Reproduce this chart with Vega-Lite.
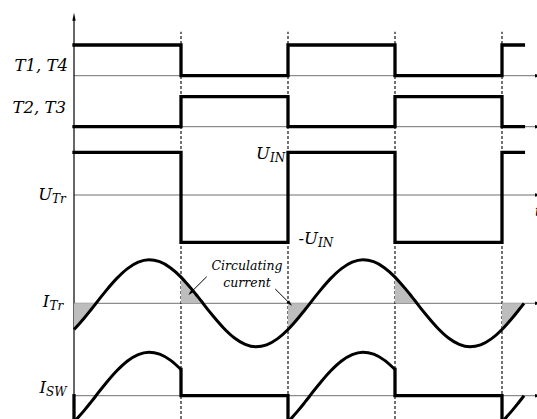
{
  "$schema": "https://vega.github.io/schema/vega-lite/v6.json",
  "width": 537,
  "height": 419,
  "autosize": "none",
  "padding": 0,
  "background": "white",
  "config": {"view": {"stroke": null}},
  "datasets": {
    "sq": [
      {"sig": "T14", "o": 1, "t": 0, "y": 37.4}, {"sig": "T14", "o": 2, "t": 1, "y": 37.4}, {"sig": "T14", "o": 3, "t": 1, "y": 34.33}, {"sig": "T14", "o": 4, "t": 2, "y": 34.33}, {"sig": "T14", "o": 5, "t": 2, "y": 37.4}, {"sig": "T14", "o": 6, "t": 3, "y": 37.4}, {"sig": "T14", "o": 7, "t": 3, "y": 34.33}, {"sig": "T14", "o": 8, "t": 4, "y": 34.33}, {"sig": "T14", "o": 9, "t": 4, "y": 37.4}, {"sig": "T14", "o": 10, "t": 4.2, "y": 37.4},
      {"sig": "T23", "o": 1, "t": 0, "y": 29.23}, {"sig": "T23", "o": 2, "t": 1, "y": 29.23}, {"sig": "T23", "o": 3, "t": 1, "y": 32.23}, {"sig": "T23", "o": 4, "t": 2, "y": 32.23}, {"sig": "T23", "o": 5, "t": 2, "y": 29.23}, {"sig": "T23", "o": 6, "t": 3, "y": 29.23}, {"sig": "T23", "o": 7, "t": 3, "y": 32.23}, {"sig": "T23", "o": 8, "t": 4, "y": 32.23}, {"sig": "T23", "o": 9, "t": 4, "y": 29.23}, {"sig": "T23", "o": 10, "t": 4.2, "y": 29.23},
      {"sig": "UTr", "o": 1, "t": 0, "y": 26.67}, {"sig": "UTr", "o": 2, "t": 1, "y": 26.67}, {"sig": "UTr", "o": 3, "t": 1, "y": 17.67}, {"sig": "UTr", "o": 4, "t": 2, "y": 17.67}, {"sig": "UTr", "o": 5, "t": 2, "y": 26.67}, {"sig": "UTr", "o": 6, "t": 3, "y": 26.67}, {"sig": "UTr", "o": 7, "t": 3, "y": 17.67}, {"sig": "UTr", "o": 8, "t": 4, "y": 17.67}, {"sig": "UTr", "o": 9, "t": 4, "y": 26.67}, {"sig": "UTr", "o": 10, "t": 4.2, "y": 26.67},
      {"sig": "SWa", "o": 1, "t": 0, "y": 2.33}, {"sig": "SWa", "o": 2, "t": 0, "y": -0.29},
      {"sig": "SWb", "o": 1, "t": 1, "y": 4.95}, {"sig": "SWb", "o": 2, "t": 1, "y": 2.33}, {"sig": "SWb", "o": 3, "t": 2, "y": 2.33}, {"sig": "SWb", "o": 4, "t": 2, "y": -0.29},
      {"sig": "SWc", "o": 1, "t": 3, "y": 4.95}, {"sig": "SWc", "o": 2, "t": 3, "y": 2.33}, {"sig": "SWc", "o": 3, "t": 4, "y": 2.33}, {"sig": "SWc", "o": 4, "t": 4, "y": -0.29}
    ],
    "itr": [
      {"t": 0, "y": 8.95, "seg": "A0"}, {"t": 0.05, "y": 9.53, "seg": "A0"}, {"t": 0.1, "y": 10.15, "seg": "A0"}, {"t": 0.15, "y": 10.81, "seg": "A0"}, {"t": 0.2, "y": 11.49, "seg": "A0"}, {"t": 0.2056, "y": 11.57, "seg": "A0"},
      {"t": 0.3, "y": 12.84}, {"t": 0.4, "y": 14.06}, {"t": 0.5, "y": 15.04}, {"t": 0.6, "y": 15.68}, {"t": 0.7, "y": 15.92}, {"t": 0.8, "y": 15.73}, {"t": 0.9, "y": 15.13},
      {"t": 1.0, "y": 14.19, "seg": "A1"}, {"t": 1.05, "y": 13.61, "seg": "A1"}, {"t": 1.1, "y": 12.99, "seg": "A1"}, {"t": 1.15, "y": 12.33, "seg": "A1"}, {"t": 1.2, "y": 11.65, "seg": "A1"}, {"t": 1.2056, "y": 11.57, "seg": "A1"},
      {"t": 1.3, "y": 10.3}, {"t": 1.4, "y": 9.08}, {"t": 1.5, "y": 8.1}, {"t": 1.6, "y": 7.46}, {"t": 1.7, "y": 7.22}, {"t": 1.8, "y": 7.41}, {"t": 1.9, "y": 8.01},
      {"t": 2.0, "y": 8.95, "seg": "A2"}, {"t": 2.05, "y": 9.53, "seg": "A2"}, {"t": 2.1, "y": 10.15, "seg": "A2"}, {"t": 2.15, "y": 10.81, "seg": "A2"}, {"t": 2.2, "y": 11.49, "seg": "A2"}, {"t": 2.2056, "y": 11.57, "seg": "A2"},
      {"t": 2.3, "y": 12.84}, {"t": 2.4, "y": 14.06}, {"t": 2.5, "y": 15.04}, {"t": 2.6, "y": 15.68}, {"t": 2.7, "y": 15.92}, {"t": 2.8, "y": 15.73}, {"t": 2.9, "y": 15.13},
      {"t": 3.0, "y": 14.19, "seg": "A3"}, {"t": 3.05, "y": 13.61, "seg": "A3"}, {"t": 3.1, "y": 12.99, "seg": "A3"}, {"t": 3.15, "y": 12.33, "seg": "A3"}, {"t": 3.2, "y": 11.65, "seg": "A3"}, {"t": 3.2056, "y": 11.57, "seg": "A3"},
      {"t": 3.3, "y": 10.3}, {"t": 3.4, "y": 9.08}, {"t": 3.5, "y": 8.1}, {"t": 3.6, "y": 7.46}, {"t": 3.7, "y": 7.22}, {"t": 3.8, "y": 7.41}, {"t": 3.9, "y": 8.01},
      {"t": 4.0, "y": 8.95, "seg": "A4"}, {"t": 4.05, "y": 9.53, "seg": "A4"}, {"t": 4.1, "y": 10.15, "seg": "A4"}, {"t": 4.15, "y": 10.81, "seg": "A4"}, {"t": 4.2, "y": 11.49, "seg": "A4"}, {"t": 4.2056, "y": 11.57, "seg": "A4"}
    ],
    "isw": [
      {"seg": "S0", "t": 0, "y": -0.29}, {"seg": "S0", "t": 0.05, "y": 0.29}, {"seg": "S0", "t": 0.1, "y": 0.91}, {"seg": "S0", "t": 0.15, "y": 1.57}, {"seg": "S0", "t": 0.2, "y": 2.25}, {"seg": "S0", "t": 0.2056, "y": 2.33}, {"seg": "S0", "t": 0.3, "y": 3.6}, {"seg": "S0", "t": 0.4, "y": 4.82}, {"seg": "S0", "t": 0.5, "y": 5.8}, {"seg": "S0", "t": 0.6, "y": 6.44}, {"seg": "S0", "t": 0.7, "y": 6.68}, {"seg": "S0", "t": 0.8, "y": 6.49}, {"seg": "S0", "t": 0.9, "y": 5.89}, {"seg": "S0", "t": 1.0, "y": 4.95},
      {"seg": "S2", "t": 2, "y": -0.29}, {"seg": "S2", "t": 2.05, "y": 0.29}, {"seg": "S2", "t": 2.1, "y": 0.91}, {"seg": "S2", "t": 2.15, "y": 1.57}, {"seg": "S2", "t": 2.2, "y": 2.25}, {"seg": "S2", "t": 2.2056, "y": 2.33}, {"seg": "S2", "t": 2.3, "y": 3.6}, {"seg": "S2", "t": 2.4, "y": 4.82}, {"seg": "S2", "t": 2.5, "y": 5.8}, {"seg": "S2", "t": 2.6, "y": 6.44}, {"seg": "S2", "t": 2.7, "y": 6.68}, {"seg": "S2", "t": 2.8, "y": 6.49}, {"seg": "S2", "t": 2.9, "y": 5.89}, {"seg": "S2", "t": 3.0, "y": 4.95},
      {"seg": "S4", "t": 4, "y": -0.29}, {"seg": "S4", "t": 4.05, "y": 0.29}, {"seg": "S4", "t": 4.1, "y": 0.91}, {"seg": "S4", "t": 4.15, "y": 1.57}, {"seg": "S4", "t": 4.2, "y": 2.25}, {"seg": "S4", "t": 4.2056, "y": 2.33}
    ],
    "base": [{"y": 34.33}, {"y": 29.23}, {"y": 22.4}, {"y": 11.57}, {"y": 2.33}],
    "dash": [{"t": 1}, {"t": 2}, {"t": 3}, {"t": 4}],
    "labels": [
      {"text": "T1, T4", "t": -0.056, "y": 34.8},
      {"text": "T2, T3", "t": -0.075, "y": 30.6},
      {"text": "U", "t": -0.205, "y": 21.9},
      {"text": "I", "t": -0.23, "y": 11.2},
      {"text": "I", "t": -0.262, "y": 2.63},
      {"text": "U", "t": 1.832, "y": 26.0},
      {"text": "-U", "t": 2.28, "y": 17.55}
    ],
    "subs": [
      {"text": "Tr", "t": -0.205, "y": 21.6},
      {"text": "Tr", "t": -0.23, "y": 10.9},
      {"text": "SW", "t": -0.262, "y": 2.35},
      {"text": "IN", "t": 1.832, "y": 25.7},
      {"text": "IN", "t": 2.28, "y": 17.25}
    ],
    "notes": [
      {"text": "Circulating", "t": 1.617, "y": 14.9},
      {"text": "current", "t": 1.617, "y": 13.25}
    ],
    "arrows": [
      {"id": 1, "t": 1.24, "y": 14.23, "t2": 1.0888, "y2": 12.62},
      {"id": 2, "t": 1.881, "y": 13.0, "t2": 2.0178, "y2": 11.54}
    ]
  },
  "layer": [
    {
      "data": {"name": "base"},
      "mark": {"type": "rule", "color": "#707070", "strokeWidth": 1},
      "encoding": {
        "x": {"datum": 0, "type": "quantitative", "scale": {"domain": [-0.6916, 4.3271], "nice": false, "zero": false}, "axis": null},
        "x2": {"datum": 4.33},
        "y": {"field": "y", "type": "quantitative", "scale": {"domain": [0, 41.9], "nice": false, "zero": false}, "axis": null}
      }
    },
    {
      "data": {"name": "base"},
      "mark": {"type": "point", "shape": "M1,0L-1,0.42L-1,-0.42Z", "size": 64, "filled": true, "color": "#000", "opacity": 1},
      "encoding": {
        "x": {"datum": 4.346, "type": "quantitative"},
        "y": {"field": "y", "type": "quantitative"}
      }
    },
    {
      "data": {"name": "dash"},
      "mark": {"type": "rule", "color": "#000", "strokeWidth": 1.1, "strokeDash": [3, 2]},
      "encoding": {
        "x": {"field": "t", "type": "quantitative"},
        "y": {"datum": 0, "type": "quantitative"},
        "y2": {"datum": 38.73}
      }
    },
    {
      "data": {"values": [{"t": 0}]},
      "mark": {"type": "rule", "color": "#000", "strokeWidth": 1.2},
      "encoding": {
        "x": {"field": "t", "type": "quantitative"},
        "y": {"datum": 0, "type": "quantitative"},
        "y2": {"datum": 39.9}
      }
    },
    {
      "data": {"values": [{"t": 0, "y": 40.23}]},
      "mark": {"type": "point", "shape": "M0,-1L0.42,1L-0.42,1Z", "size": 64, "filled": true, "color": "#000", "opacity": 1},
      "encoding": {
        "x": {"field": "t", "type": "quantitative"},
        "y": {"field": "y", "type": "quantitative"}
      }
    },
    {
      "data": {"name": "itr"},
      "transform": [{"filter": "datum.seg != null"}],
      "mark": {"type": "area", "interpolate": "monotone", "color": "#bdbdbd", "opacity": 1},
      "encoding": {
        "x": {"field": "t", "type": "quantitative"},
        "y": {"field": "y", "type": "quantitative", "stack": null},
        "y2": {"datum": 11.57},
        "detail": {"field": "seg"}
      }
    },
    {
      "data": {"name": "itr"},
      "mark": {"type": "line", "interpolate": "monotone", "color": "#000", "strokeWidth": 3},
      "encoding": {
        "x": {"field": "t", "type": "quantitative"},
        "y": {"field": "y", "type": "quantitative"},
        "order": {"field": "t"}
      }
    },
    {
      "data": {"name": "isw"},
      "mark": {"type": "line", "interpolate": "monotone", "color": "#000", "strokeWidth": 3},
      "encoding": {
        "x": {"field": "t", "type": "quantitative"},
        "y": {"field": "y", "type": "quantitative"},
        "detail": {"field": "seg"},
        "order": {"field": "t"}
      }
    },
    {
      "data": {"name": "sq"},
      "mark": {"type": "line", "interpolate": "linear", "color": "#000", "strokeWidth": 3.3, "strokeCap": "square", "strokeJoin": "miter"},
      "encoding": {
        "x": {"field": "t", "type": "quantitative"},
        "y": {"field": "y", "type": "quantitative"},
        "detail": {"field": "sig"},
        "order": {"field": "o"}
      }
    },
    {
      "data": {"name": "arrows"},
      "mark": {"type": "rule", "color": "#000", "strokeWidth": 1},
      "encoding": {
        "x": {"field": "t", "type": "quantitative"},
        "y": {"field": "y", "type": "quantitative"},
        "x2": {"field": "t2"},
        "y2": {"field": "y2"}
      }
    },
    {
      "data": {"name": "arrows"},
      "transform": [{"filter": "datum.id == 1"}],
      "mark": {"type": "point", "shape": "M0,-1L0.6,1L-0.6,1Z", "size": 36, "angle": 225, "filled": true, "color": "#000", "opacity": 1},
      "encoding": {
        "x": {"field": "t2", "type": "quantitative"},
        "y": {"field": "y2", "type": "quantitative"}
      }
    },
    {
      "data": {"name": "arrows"},
      "transform": [{"filter": "datum.id == 2"}],
      "mark": {"type": "point", "shape": "M0,-1L0.6,1L-0.6,1Z", "size": 36, "angle": 135, "filled": true, "color": "#000", "opacity": 1},
      "encoding": {
        "x": {"field": "t2", "type": "quantitative"},
        "y": {"field": "y2", "type": "quantitative"}
      }
    },
    {
      "data": {"name": "labels"},
      "mark": {"type": "text", "align": "right", "baseline": "alphabetic", "font": "DejaVu Serif", "fontStyle": "italic", "fontSize": 16.5, "color": "#000"},
      "encoding": {
        "x": {"field": "t", "type": "quantitative"},
        "y": {"field": "y", "type": "quantitative"},
        "text": {"field": "text"}
      }
    },
    {
      "data": {"name": "subs"},
      "mark": {"type": "text", "align": "left", "baseline": "alphabetic", "font": "DejaVu Serif", "fontStyle": "italic", "fontSize": 12, "color": "#000"},
      "encoding": {
        "x": {"field": "t", "type": "quantitative"},
        "y": {"field": "y", "type": "quantitative"},
        "text": {"field": "text"}
      }
    },
    {
      "data": {"name": "notes"},
      "mark": {"type": "text", "align": "center", "baseline": "alphabetic", "font": "DejaVu Serif", "fontStyle": "italic", "fontSize": 12.5, "color": "#000"},
      "encoding": {
        "x": {"field": "t", "type": "quantitative"},
        "y": {"field": "y", "type": "quantitative"},
        "text": {"field": "text"}
      }
    },
    {
      "data": {"values": [{"text": "t", "t": 4.308, "y": 20.3}]},
      "mark": {"type": "text", "align": "left", "baseline": "alphabetic", "font": "DejaVu Serif", "fontStyle": "italic", "fontSize": 14, "color": "#000"},
      "encoding": {
        "x": {"field": "t", "type": "quantitative"},
        "y": {"field": "y", "type": "quantitative"},
        "text": {"field": "text"}
      }
    }
  ]
}
